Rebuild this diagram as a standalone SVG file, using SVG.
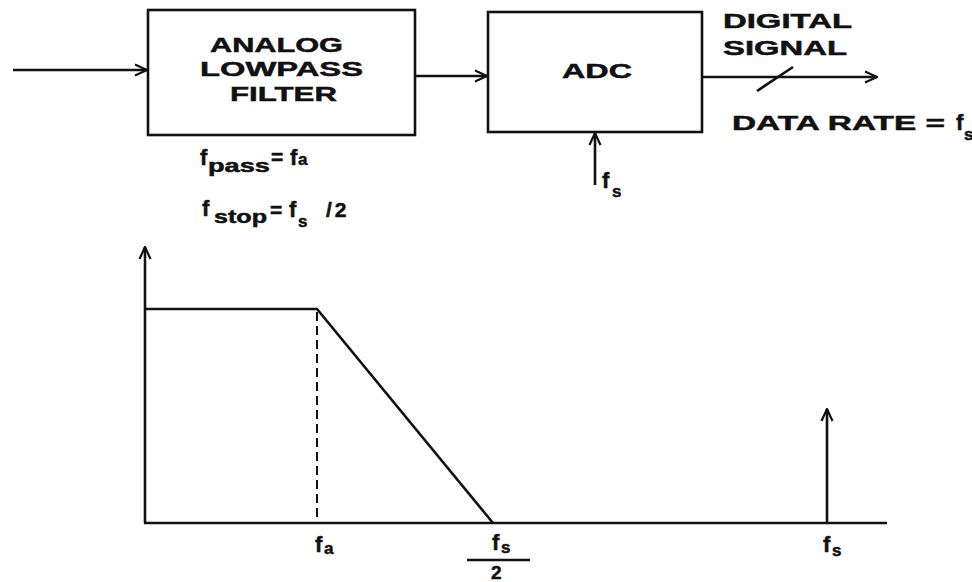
<svg xmlns="http://www.w3.org/2000/svg" width="972" height="582" viewBox="0 0 972 582">
<style>
.ln{stroke:#111;stroke-width:2.6;fill:none}
.bx{stroke:#111;stroke-width:2.6;fill:#fff}
.t{font-family:"Liberation Sans",Arial,sans-serif;font-weight:bold;fill:#111;stroke:#111;stroke-width:0.5}
</style>
<defs>
<marker id="ah" viewBox="0 0 14 14" refX="13" refY="7" markerWidth="14" markerHeight="14" markerUnits="userSpaceOnUse" orient="auto">
<path d="M1,1.5 L13,7 L1,12.5" fill="none" stroke="#111" stroke-width="2.2"/>
</marker>
</defs>
<rect width="972" height="582" fill="#fff"/>
<g id="filter">
<rect class="bx" x="148" y="10" width="267" height="125"/>
<text class="t" x="210" y="52" font-size="21" textLength="133" lengthAdjust="spacingAndGlyphs">ANALOG</text>
<text class="t" x="200" y="76" font-size="21" textLength="163" lengthAdjust="spacingAndGlyphs">LOWPASS</text>
<text class="t" x="230" y="101" font-size="21" textLength="107" lengthAdjust="spacingAndGlyphs">FILTER</text>
</g>
<g id="adc">
<rect class="bx" x="488" y="12" width="214" height="120"/>
<text class="t" x="562" y="78" font-size="21" textLength="70" lengthAdjust="spacingAndGlyphs">ADC</text>
</g>
<g id="connectors">
<line class="ln" x1="13" y1="70" x2="147" y2="70" marker-end="url(#ah)"/>
<line class="ln" x1="415" y1="76" x2="487" y2="76" marker-end="url(#ah)"/>
<line class="ln" x1="702" y1="77" x2="877" y2="77" marker-end="url(#ah)"/>
<line class="ln" x1="757" y1="91" x2="793" y2="67"/>
<line class="ln" x1="595" y1="185" x2="595" y2="133" marker-end="url(#ah)"/>
</g>
<g id="labels">
<text class="t" x="723" y="28" font-size="21" textLength="129" lengthAdjust="spacingAndGlyphs">DIGITAL</text>
<text class="t" x="723" y="55" font-size="21" textLength="124" lengthAdjust="spacingAndGlyphs">SIGNAL</text>
<text class="t" x="732" y="130" font-size="21" textLength="213" lengthAdjust="spacingAndGlyphs">DATA RATE =</text>
<text class="t" x="956" y="130" font-size="22">f</text>
<text class="t" x="964" y="140" font-size="17">s</text>
<text class="t" x="602" y="188" font-size="22">f</text>
<text class="t" x="612" y="197" font-size="17">s</text>
<text class="t" x="200" y="165" font-size="22">f</text>
<text class="t" x="208" y="172" font-size="18" textLength="62" lengthAdjust="spacingAndGlyphs">pass</text>
<text class="t" x="271" y="164" font-size="21">=</text>
<text class="t" x="290" y="165" font-size="22">f</text>
<text class="t" x="298" y="165" font-size="17">a</text>
<text class="t" x="202" y="216" font-size="22">f</text>
<text class="t" x="214" y="223" font-size="18" textLength="53" lengthAdjust="spacingAndGlyphs">stop</text>
<text class="t" x="270" y="217" font-size="21">=</text>
<text class="t" x="289" y="217" font-size="22">f</text>
<text class="t" x="298" y="227" font-size="17">s</text>
<text class="t" x="326" y="217" font-size="21" letter-spacing="3">/2</text>
</g>
<g id="graph">
<line class="ln" x1="145" y1="523" x2="145" y2="247" marker-end="url(#ah)"/>
<line class="ln" x1="144" y1="523" x2="887" y2="523"/>
<polyline class="ln" points="145,309 317,309 493,523"/>
<line x1="317" y1="312" x2="317" y2="521" stroke="#111" stroke-width="2" stroke-dasharray="9,5"/>
<line class="ln" x1="827" y1="523" x2="827" y2="409" marker-end="url(#ah)"/>
<text class="t" x="315" y="552" font-size="22">f</text>
<text class="t" x="324" y="554" font-size="17">a</text>
<text class="t" x="492" y="550" font-size="22">f</text>
<text class="t" x="501" y="553" font-size="17">s</text>
<line class="ln" x1="467" y1="560" x2="530" y2="560"/>
<text class="t" x="491" y="579" font-size="19">2</text>
<text class="t" x="823" y="552" font-size="22">f</text>
<text class="t" x="832" y="556" font-size="17">s</text>
</g>
</svg>
